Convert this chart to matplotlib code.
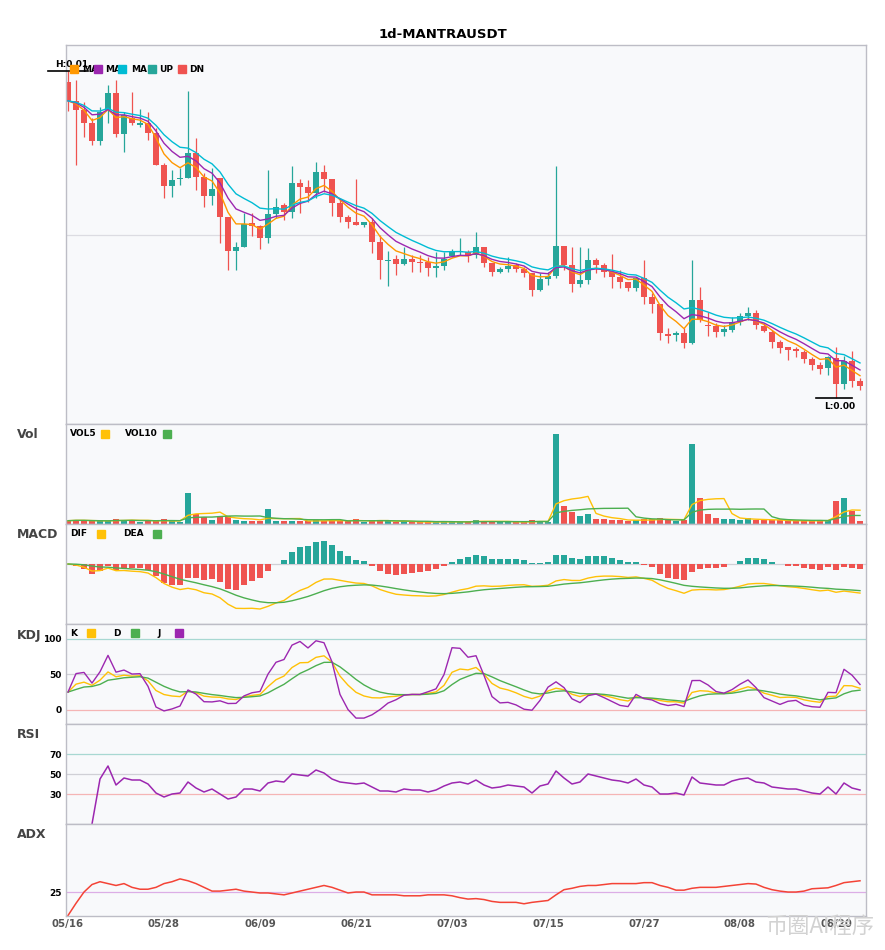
"""Recreate the 1d-MANTRAUSDT daily candlestick chart with its indicator panes."""
from __future__ import annotations

import matplotlib

matplotlib.use("Agg")
import matplotlib.pyplot as plt
import numpy as np
import pandas as pd
from matplotlib.patches import Rectangle

FIG_W, FIG_H, DPI = 885, 950, 100

# daily candles from 2025-05-16, prices in units of 1e-5 USDT
PRICE_UNIT = 1e-5
START_DATE = "2025-05-16"
OPEN = [
    742, 723, 714, 701, 683, 714, 731, 690, 706, 699,
    701, 691, 659, 638, 645, 646, 671, 647, 628, 646,
    607, 573, 577, 601, 598, 586, 610, 619, 612, 641,
    637, 631, 652, 645, 621, 607, 602, 599, 602, 582,
    563, 565, 560, 565, 562, 562, 556, 558, 568, 572,
    572, 569, 577, 561, 552, 555, 559, 555, 551, 534,
    545, 548, 578, 559, 540, 544, 564, 559, 552, 547,
    542, 536, 546, 527, 520, 490, 489, 491, 481, 524,
    499, 498, 492, 494, 502, 508, 511, 498, 492, 482,
    477, 475, 472, 465, 459, 456, 466, 440, 463, 443,
]
HIGH = [
    753, 744, 722, 706, 717, 739, 744, 712, 732, 715,
    712, 696, 661, 654, 656, 733, 686, 651, 656, 646,
    607, 582, 611, 611, 599, 654, 626, 621, 658, 645,
    644, 662, 659, 645, 626, 609, 645, 602, 606, 589,
    573, 569, 577, 569, 569, 567, 572, 572, 575, 586,
    574, 592, 577, 561, 557, 567, 561, 557, 551, 551,
    552, 658, 578, 577, 577, 576, 566, 561, 570, 554,
    542, 547, 564, 531, 520, 496, 493, 496, 564, 537,
    512, 501, 499, 507, 511, 517, 514, 501, 494, 484,
    477, 477, 474, 467, 462, 468, 477, 468, 473, 446,
]
LOW = [
    713, 659, 687, 679, 679, 701, 687, 672, 699, 697,
    684, 659, 626, 627, 639, 646, 634, 617, 619, 581,
    554, 554, 577, 588, 575, 581, 606, 604, 606, 611,
    622, 626, 632, 608, 602, 596, 599, 597, 571, 545,
    538, 549, 559, 552, 552, 548, 547, 554, 567, 569,
    562, 566, 557, 548, 551, 552, 552, 547, 528, 533,
    539, 546, 554, 532, 537, 540, 551, 547, 536, 536,
    533, 533, 520, 511, 484, 481, 483, 476, 480, 502,
    488, 487, 488, 492, 499, 504, 495, 492, 476, 471,
    464, 467, 461, 454, 450, 449, 426, 435, 437, 434,
]
CLOSE = [
    723, 714, 701, 683, 712, 731, 690, 709, 701, 701,
    691, 659, 638, 644, 646, 671, 647, 628, 635, 607,
    573, 577, 600, 598, 586, 610, 617, 612, 641, 637,
    631, 652, 645, 621, 607, 602, 599, 602, 582, 564,
    564, 560, 565, 562, 561, 556, 558, 565, 573, 573,
    568, 577, 561, 552, 555, 558, 555, 551, 534, 545,
    548, 578, 559, 540, 544, 564, 559, 552, 547, 542,
    536, 546, 527, 520, 491, 488, 491, 481, 524, 504,
    498, 492, 495, 502, 508, 511, 499, 493, 482, 476,
    474, 473, 465, 459, 455, 467, 440, 463, 443, 438,
]
VOLUME = [
    3.3, 4.0, 3.7, 2.7, 2.7, 2.7, 5.3, 4.3, 4.3, 1.7,
    2.7, 2.7, 5.3, 2.7, 1.7, 31.0, 10.0, 7.0, 4.3, 7.0,
    7.7, 4.3, 3.3, 2.7, 2.7, 15.0, 3.3, 2.7, 3.3, 3.0,
    2.5, 4.0, 3.0, 4.0, 3.0, 2.5, 5.0, 2.0, 3.5, 4.0,
    2.5, 2.0, 2.5, 2.0, 1.5, 2.0, 2.0, 2.5, 2.5, 2.0,
    2.0, 4.0, 3.0, 2.5, 1.5, 2.0, 2.0, 2.0, 3.5, 3.0,
    2.0, 90.0, 18.0, 12.0, 8.0, 10.0, 5.0, 4.5, 4.0, 3.5,
    3.0, 4.0, 5.0, 4.5, 6.0, 4.0, 3.0, 4.0, 80.0, 26.0,
    10.0, 6.0, 5.0, 5.0, 4.0, 6.0, 4.0, 3.5, 3.5, 3.5,
    3.0, 3.0, 3.0, 3.0, 4.0, 4.0, 23.0, 26.0, 13.0, 3.0,
]
RSI = [
    np.nan, np.nan, np.nan, 0, 45, 58, 39, 46, 44, 44,
    40, 31, 27, 30, 31, 42, 36, 32, 35, 30,
    25, 27, 35, 35, 33, 41, 43, 42, 50, 49,
    48, 54, 51, 45, 42, 41, 40, 41, 37, 33,
    33, 32, 35, 34, 34, 32, 34, 38, 41, 42,
    40, 44, 39, 36, 37, 39, 38, 37, 31, 38,
    40, 53, 46, 40, 42, 50, 48, 46, 44, 43,
    41, 45, 39, 37, 30, 30, 31, 29, 47, 41,
    40, 39, 39, 43, 45, 46, 42, 41, 37, 36,
    35, 35, 33, 31, 30, 37, 30, 41, 36, 34,
]
ADX = [
    0, 13, 25, 33, 36, 34, 32, 34, 30, 28,
    28, 30, 34, 36, 39, 37, 34, 30, 26, 26,
    27, 28, 26, 25, 24, 24, 23, 22, 24, 26,
    28, 30, 32, 30, 27, 24, 25, 25, 22, 22,
    22, 22, 21, 21, 21, 22, 22, 22, 21, 19,
    17.5, 18, 17, 15, 14, 14, 14, 12.5, 14, 15,
    16, 22, 27.5, 29, 31, 32, 32, 33, 34, 34,
    34, 34, 35, 35, 32, 30, 27, 27, 29, 30,
    30, 30, 31, 32, 33, 34, 33.5, 30, 27.5, 26,
    25, 25, 26, 28.5, 29, 29.5, 32, 35, 36, 37,
]
# moving-average spans of the three price lines (orange, purple, cyan)
MA_SPANS = [5, 8, 12]

UP, DN = "#26a69a", "#ef5350"
YELLOW, GREEN, PURPLE = "#ffc107", "#4caf50", "#9c27b0"
MA_COLORS = ["#ff9800", PURPLE, "#00bcd4"]
PANE_BG, SPINE = "#f8f9fb", "#bdbdc6"
BOLD = {"fontweight": "bold"}


def px(x: float, y: float) -> tuple[float, float]:
    """Pixel position (from top-left) to figure fraction."""
    return x / FIG_W, 1 - y / FIG_H


def add_pane(fig, top: float, bottom: float):
    ax = fig.add_axes([66 / FIG_W, 1 - bottom / FIG_H, 800 / FIG_W, (bottom - top) / FIG_H])
    ax.set_facecolor(PANE_BG)
    for s in ax.spines.values():
        s.set_color(SPINE)
        s.set_linewidth(1.0)
    ax.set_xlim(-0.25, len(CLOSE) - 0.25)
    ax.set_xticks([])
    ax.set_yticks([])
    return ax


def legend_item(fig, text_x, box_x, y, label, color):
    fig.text(*px(text_x, y), label, fontsize=6.5, ha="left", va="center", **BOLD, zorder=5)
    x0, y0 = px(box_x, y + 4)
    fig.patches.append(Rectangle((x0, y0), 8 / FIG_W, 8 / FIG_H, transform=fig.transFigure,
                                 color=color, zorder=6))


def ytick_style(ax, ticks):
    ax.set_yticks(ticks)
    ax.set_yticklabels([str(t) for t in ticks], fontsize=6.5, **BOLD)
    ax.tick_params(axis="y", length=0, pad=3)


def compute_kdj(high, low, close, n=9):
    llv = low.rolling(n, min_periods=1).min()
    hhv = high.rolling(n, min_periods=1).max()
    rsv = ((close - llv) / (hhv - llv) * 100).fillna(50).to_numpy()
    k = np.empty(len(rsv))
    d = np.empty(len(rsv))
    k[0] = rsv[0]
    d[0] = k[0]
    for i in range(1, len(rsv)):
        k[i] = 2 / 3 * k[i - 1] + rsv[i] / 3
        d[i] = 2 / 3 * d[i - 1] + k[i] / 3
    return k, d, 3 * k - 2 * d


def main() -> None:
    o, h, l, c = (pd.Series(v, dtype=float) for v in (OPEN, HIGH, LOW, CLOSE))
    vol = pd.Series(VOLUME)
    x = np.arange(len(c))
    up = (c >= o).to_numpy()
    colors = np.where(up, UP, DN)
    dates = pd.date_range(START_DATE, periods=len(c), freq="D")

    fig = plt.figure(figsize=(FIG_W / DPI, FIG_H / DPI), dpi=DPI)
    fig.text(*px(443, 35), "1d-MANTRAUSDT", ha="center", va="center", fontsize=9.5, **BOLD)

    # price pane
    ax = add_pane(fig, 45, 424)
    rng = h.max() - l.min()
    ax.set_ylim(l.min() - 0.079 * rng, h.max() + 0.079 * rng)
    ax.axhline(sum(ax.get_ylim()) / 2, color="#dcdce2", lw=0.9, zorder=0)
    ax.vlines(x, l, h, colors=colors, lw=0.9, zorder=2)
    ax.bar(x, np.maximum((c - o).abs(), 1.0), bottom=np.minimum(o, c), width=0.75,
           color=colors, zorder=2)
    for span, col in zip(MA_SPANS, MA_COLORS):
        ax.plot(x, c.ewm(span=span, adjust=False).mean(), color=col, lw=1.0, zorder=3)
    ih, il = int(h.idxmax()), int(l.idxmin())
    ax.plot([ih - 2.5, ih + 2.5], [h[ih]] * 2, color="black", lw=1.2, clip_on=False, zorder=4)
    ax.annotate(f"H:{h[ih] * PRICE_UNIT:.2f}", (ih + 0.5, h[ih]), xytext=(0, 1),
                textcoords="offset points", ha="center", va="bottom", fontsize=6.5, **BOLD)
    ax.plot([il - 2.5, il + 2.0], [l[il]] * 2, color="black", lw=1.2, clip_on=False, zorder=4)
    ax.annotate(f"L:{l[il] * PRICE_UNIT:.2f}", (il + 0.4, l[il]), xytext=(0, -3),
                textcoords="offset points", ha="center", va="top", fontsize=6.5, **BOLD)
    for tx, bx, lab, col in ((82, 70, "MA", MA_COLORS[0]), (105, 94, "MA", MA_COLORS[1]),
                             (131, 118, "MA", MA_COLORS[2]), (159, 148, "UP", UP),
                             (189, 178, "DN", DN)):
        legend_item(fig, tx, bx, 69, lab, col)

    # volume pane
    ax = add_pane(fig, 424, 524)
    ax.bar(x, vol, width=0.75, color=colors, zorder=2)
    ax.plot(x, vol.rolling(5, min_periods=1).mean(), color=YELLOW, lw=1.0, zorder=3)
    ax.plot(x, vol.rolling(10, min_periods=1).mean(), color=GREEN, lw=1.0, zorder=3)
    ax.set_ylim(0, vol.max() * 1.11)
    legend_item(fig, 70, 101, 434, "VOL5", YELLOW)
    legend_item(fig, 125, 163, 434, "VOL10", GREEN)

    # MACD pane
    ax = add_pane(fig, 524, 624)
    dif = c.ewm(span=12, adjust=False).mean() - c.ewm(span=26, adjust=False).mean()
    dea = dif.ewm(span=9, adjust=False).mean()
    hist = 2 * (dif - dea)
    ax.axhline(0, color="#d0d0d6", lw=0.9, zorder=0)
    ax.bar(x, hist, width=0.75, color=np.where(hist >= 0, UP, DN), zorder=2)
    ax.plot(x, dif, color=YELLOW, lw=1.0, zorder=3)
    ax.plot(x, dea, color=GREEN, lw=1.0, zorder=3)
    lo = min(dif.min(), dea.min(), hist.min()) * 60 / 45
    ax.set_ylim(lo, -lo * 40 / 60)
    legend_item(fig, 70, 97, 534, "DIF", YELLOW)
    legend_item(fig, 123, 153, 534, "DEA", GREEN)

    # KDJ pane
    ax = add_pane(fig, 624, 724)
    k, d, j = compute_kdj(h, l, c)
    ax.axhline(100, color="#a8d8d2", lw=0.9, zorder=0)
    ax.axhline(50, color="#d0d0d6", lw=0.9, zorder=0)
    ax.axhline(0, color="#f5b5b5", lw=0.9, zorder=0)
    ax.plot(x, k, color=YELLOW, lw=1.0)
    ax.plot(x, d, color=GREEN, lw=1.0)
    ax.plot(x, j, color=PURPLE, lw=1.0)
    ax.set_ylim(-20, 121)
    ytick_style(ax, [0, 50, 100])
    legend_item(fig, 70, 87, 633, "K", YELLOW)
    legend_item(fig, 113, 131, 633, "D", GREEN)
    legend_item(fig, 157, 175, 633, "J", PURPLE)

    # RSI pane
    ax = add_pane(fig, 724, 824)
    ax.axhline(70, color="#a8d8d2", lw=0.9, zorder=0)
    ax.axhline(50, color="#d0d0d6", lw=0.9, zorder=0)
    ax.axhline(30, color="#f5b5b5", lw=0.9, zorder=0)
    ax.plot(x, RSI, color=PURPLE, lw=1.1)
    ax.set_ylim(0, 100)
    ytick_style(ax, [30, 50, 70])

    # ADX pane
    ax = add_pane(fig, 824, 915.5)
    ax.axhline(25, color="#dcaee6", lw=0.9, zorder=0)
    ax.plot(x, ADX, color="#f44336", lw=1.1)
    ax.set_ylim(0, 97.5)
    ytick_style(ax, [25])
    ticks = x[::12]
    ax.set_xticks(ticks)
    ax.set_xticklabels(dates[ticks].strftime("%m/%d"), fontsize=7.3, color="#555555", **BOLD)
    ax.tick_params(axis="x", length=0, pad=2.5)

    for label, y in (("Vol", 435), ("MACD", 535), ("KDJ", 635), ("RSI", 735), ("ADX", 835)):
        fig.text(*px(17, y), label, ha="left", va="center", fontsize=9, color="#444444", **BOLD)

    fig.text(*px(820, 926), "币圈AI程序", ha="center", va="center", fontsize=16,
             color="#d2d2d2", family=["Noto Sans CJK SC", "DejaVu Sans"])

    fig.savefig("out.png", dpi=DPI)
    plt.close(fig)


if __name__ == "__main__":
    main()
